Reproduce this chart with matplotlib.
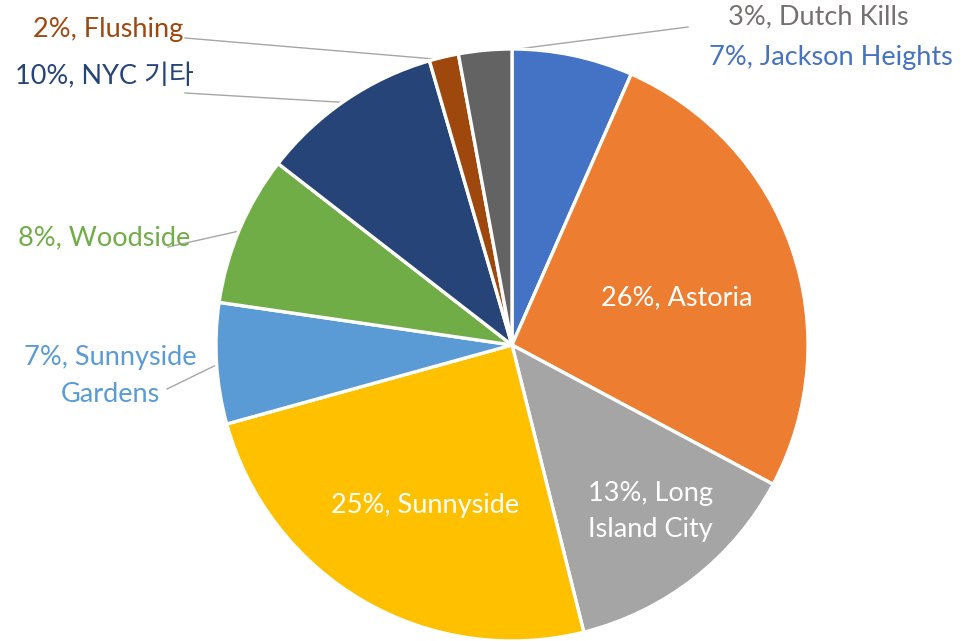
import numpy as np
import matplotlib.pyplot as plt

# Share of listings by neighbourhood (clockwise from top)
areas = ["Jackson Heights", "Astoria", "Long\nIsland City", "Sunnyside",
         "Sunnyside\nGardens", "Woodside", "NYC 기타", "Flushing", "Dutch Kills"]
shares = [6.6, 26.2, 13.3, 24.6, 6.6, 8.2, 10.0, 1.6, 2.9]
colors = ["#4472C4", "#ED7D31", "#A5A5A5", "#FFC000", "#5B9BD5",
          "#70AD47", "#264478", "#9E480E", "#636363"]
text_colors = ["#4472C4", "white", "white", "white", "#5B9BD5",
               "#70AD47", "#264478", "#9E480E", "#767171"]

plt.rcParams['font.family'] = ['Lato', 'Noto Sans CJK KR', 'DejaVu Sans']

W, H = 976, 641
cx, cy, R = 512, 345, 296

fig = plt.figure(figsize=(W / 100, H / 100), dpi=100)
ax = fig.add_axes([0, 0, 1, 1])

wedges, _ = ax.pie(shares, colors=colors, startangle=90, counterclock=False,
                   radius=1, wedgeprops=dict(edgecolor='white', linewidth=2.4))

# pie() resets the limits, so set them afterwards
ax.set_aspect('auto')
ax.set_xlim(-cx / R, (W - cx) / R)
ax.set_ylim(-(H - cy) / R, cy / R)
ax.axis('off')


def px(x, y):
    # pixel position in the picture -> data coords
    return (x - cx) / R, (cy - y) / R


total = sum(shares)
labels = [f"{round(s / total * 100)}%, {a}" for s, a in zip(shares, areas)]

# label placement: (x, y in pixels, leader-line start in pixels or None)
place = [
    (831, 57, None),
    (677, 298, None),
    (650, 512, None),
    (425, 505, None),
    (110, 376, (167, 389)),
    (104, 238, (168, 247)),
    (104, 76, (185, 93)),
    (108, 30, (185, 38)),
    (818, 17, (688, 27)),
]

for w, lab, tc, (x, y, start) in zip(wedges, labels, text_colors, place):
    tx, ty = px(x, y)
    ax.text(tx, ty, lab, color=tc, fontsize=19.5, ha='center', va='center',
            linespacing=1.55)
    if start is not None:
        # leader line runs to the rim at the middle of the wedge
        ang = np.deg2rad((w.theta1 + w.theta2) / 2)
        sx, sy = px(*start)
        ax.plot([sx, np.cos(ang) * 0.99], [sy, np.sin(ang) * 0.99],
                color='#A6A6A6', lw=1.0, zorder=0)

fig.savefig("out.png", dpi=100)
